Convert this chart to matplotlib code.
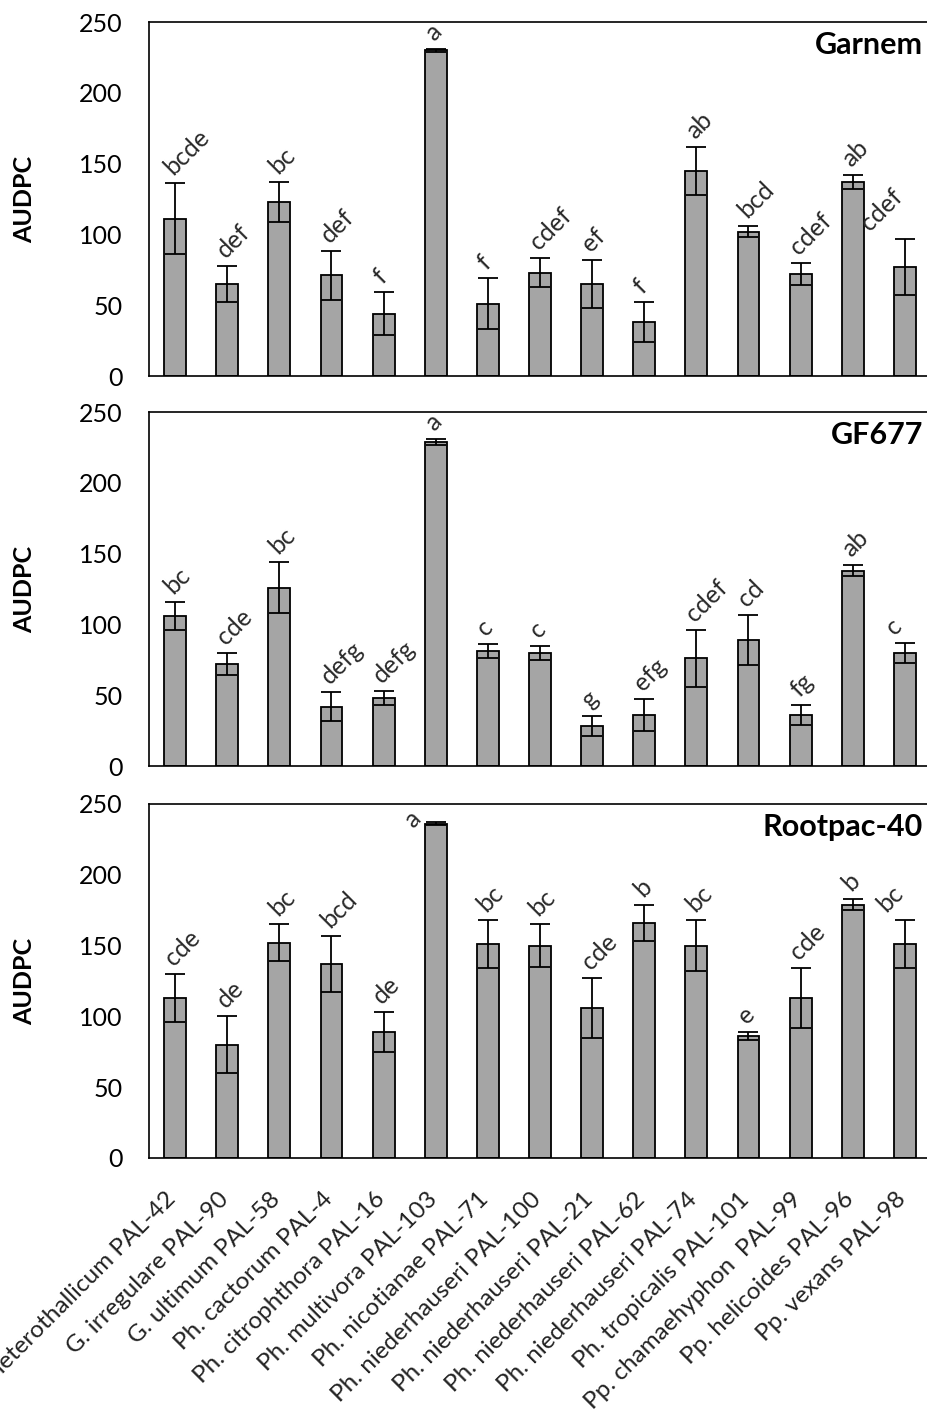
import matplotlib.pyplot as plt
import matplotlib.transforms as mtransforms
import numpy as np

plt.rcParams['font.family'] = ['Lato', 'DejaVu Sans']

isolates = ["G. heterothallicum PAL-42", "G. irregulare PAL-90", "G. ultimum PAL-58",
            "Ph. cactorum PAL-4", "Ph. citrophthora PAL-16", "Ph. multivora PAL-103",
            "Ph. nicotianae PAL-71", "Ph. niederhauseri PAL-100", "Ph. niederhauseri PAL-21",
            "Ph. niederhauseri PAL-62", "Ph. niederhauseri PAL-74", "Ph. tropicalis PAL-101",
            "Pp. chamaehyphon  PAL-99", "Pp. helicoides PAL-96", "Pp. vexans PAL-98"]

# Garnem
garnem = [111, 65, 123, 71, 44, 230, 51, 73, 65, 38, 145, 102, 72, 137, 77]
garnem_err = [25, 13, 14, 17, 15, 1, 18, 10, 17, 14, 17, 4, 8, 5, 20]
garnem_let = ["bcde", "def", "bc", "def", "f", "a", "f", "cdef", "ef", "f",
              "ab", "bcd", "cdef", "ab", "cdef"]

# GF677
gf677 = [106, 72, 126, 42, 48, 229, 81, 80, 28, 36, 76, 89, 36, 138, 80]
gf677_err = [10, 8, 18, 10, 5, 2, 5, 5, 7, 11, 20, 18, 7, 4, 7]
gf677_let = ["bc", "cde", "bc", "defg", "defg", "a", "c", "c", "g", "efg",
             "cdef", "cd", "fg", "ab", "c"]

# Rootpac-40
rootpac = [113, 80, 152, 137, 89, 236, 151, 150, 106, 166, 150, 86, 113, 179, 151]
rootpac_err = [17, 20, 13, 20, 14, 1, 17, 15, 21, 13, 18, 3, 21, 4, 17]
rootpac_let = ["cde", "de", "bc", "bcd", "de", "a", "bc", "bc", "cde", "b",
               "bc", "e", "cde", "b", "bc"]

panels = [("Garnem", garnem, garnem_err, garnem_let),
          ("GF677", gf677, gf677_err, gf677_let),
          ("Rootpac-40", rootpac, rootpac_err, rootpac_let)]

fig = plt.figure(figsize=(9.28, 14.12), dpi=100)
tops = [0.9844, 0.7082, 0.4306]
h = 0.2507
x = np.arange(len(isolates))

for i, (name, vals, errs, lets) in enumerate(panels):
    ax = fig.add_axes([0.1606, tops[i] - h, 0.8425, h])
    ax.bar(x, vals, width=0.42, color="#a5a5a5", edgecolor="black", linewidth=1.3,
           yerr=errs, capsize=7, error_kw=dict(elinewidth=1.3, capthick=1.3, ecolor="black"))
    for xi, v, e, l in zip(x, vals, errs, lets):
        dx, dy = 1, 3
        if xi == len(isolates) - 1:
            # keep the last label inside the frame
            dx = 1 - 6 * len(l)
        if v + e > 234:
            dx, dy = -14, -7
        ax.annotate(l, (xi, v + e), xytext=(dx, dy), textcoords="offset points",
                    rotation=45, rotation_mode="anchor", ha="left", va="bottom",
                    fontsize=18, color="#2a2a2a")
    ax.set_xlim(-0.5, len(isolates) - 0.5)
    ax.set_ylim(0, 250)
    ax.set_yticks([0, 50, 100, 150, 200, 250])
    ax.tick_params(axis="y", length=0, labelsize=18, pad=19)
    ax.tick_params(axis="x", length=0)
    for s in ax.spines.values():
        s.set_linewidth(1.2)
    ax.set_ylabel("AUDPC", fontsize=18, fontweight="bold")
    ax.yaxis.set_label_coords(-0.144, 0.5)
    ax.text(0.99, 0.935, name, transform=ax.transAxes, ha="right", va="center",
            fontsize=22, fontweight="bold")
    ax.set_xticks(x)
    if i < 2:
        ax.set_xticklabels([])
    else:
        ax.set_xticklabels(isolates, rotation=45, ha="right", rotation_mode="anchor",
                           fontsize=17.5, color="#222222")
        ax.tick_params(axis="x", pad=22)
        shift = mtransforms.ScaledTranslation(-7 / 72, 0, fig.dpi_scale_trans)
        for lab in ax.get_xticklabels():
            lab.set_transform(lab.get_transform() + shift)

fig.savefig("out.png", dpi=100)
